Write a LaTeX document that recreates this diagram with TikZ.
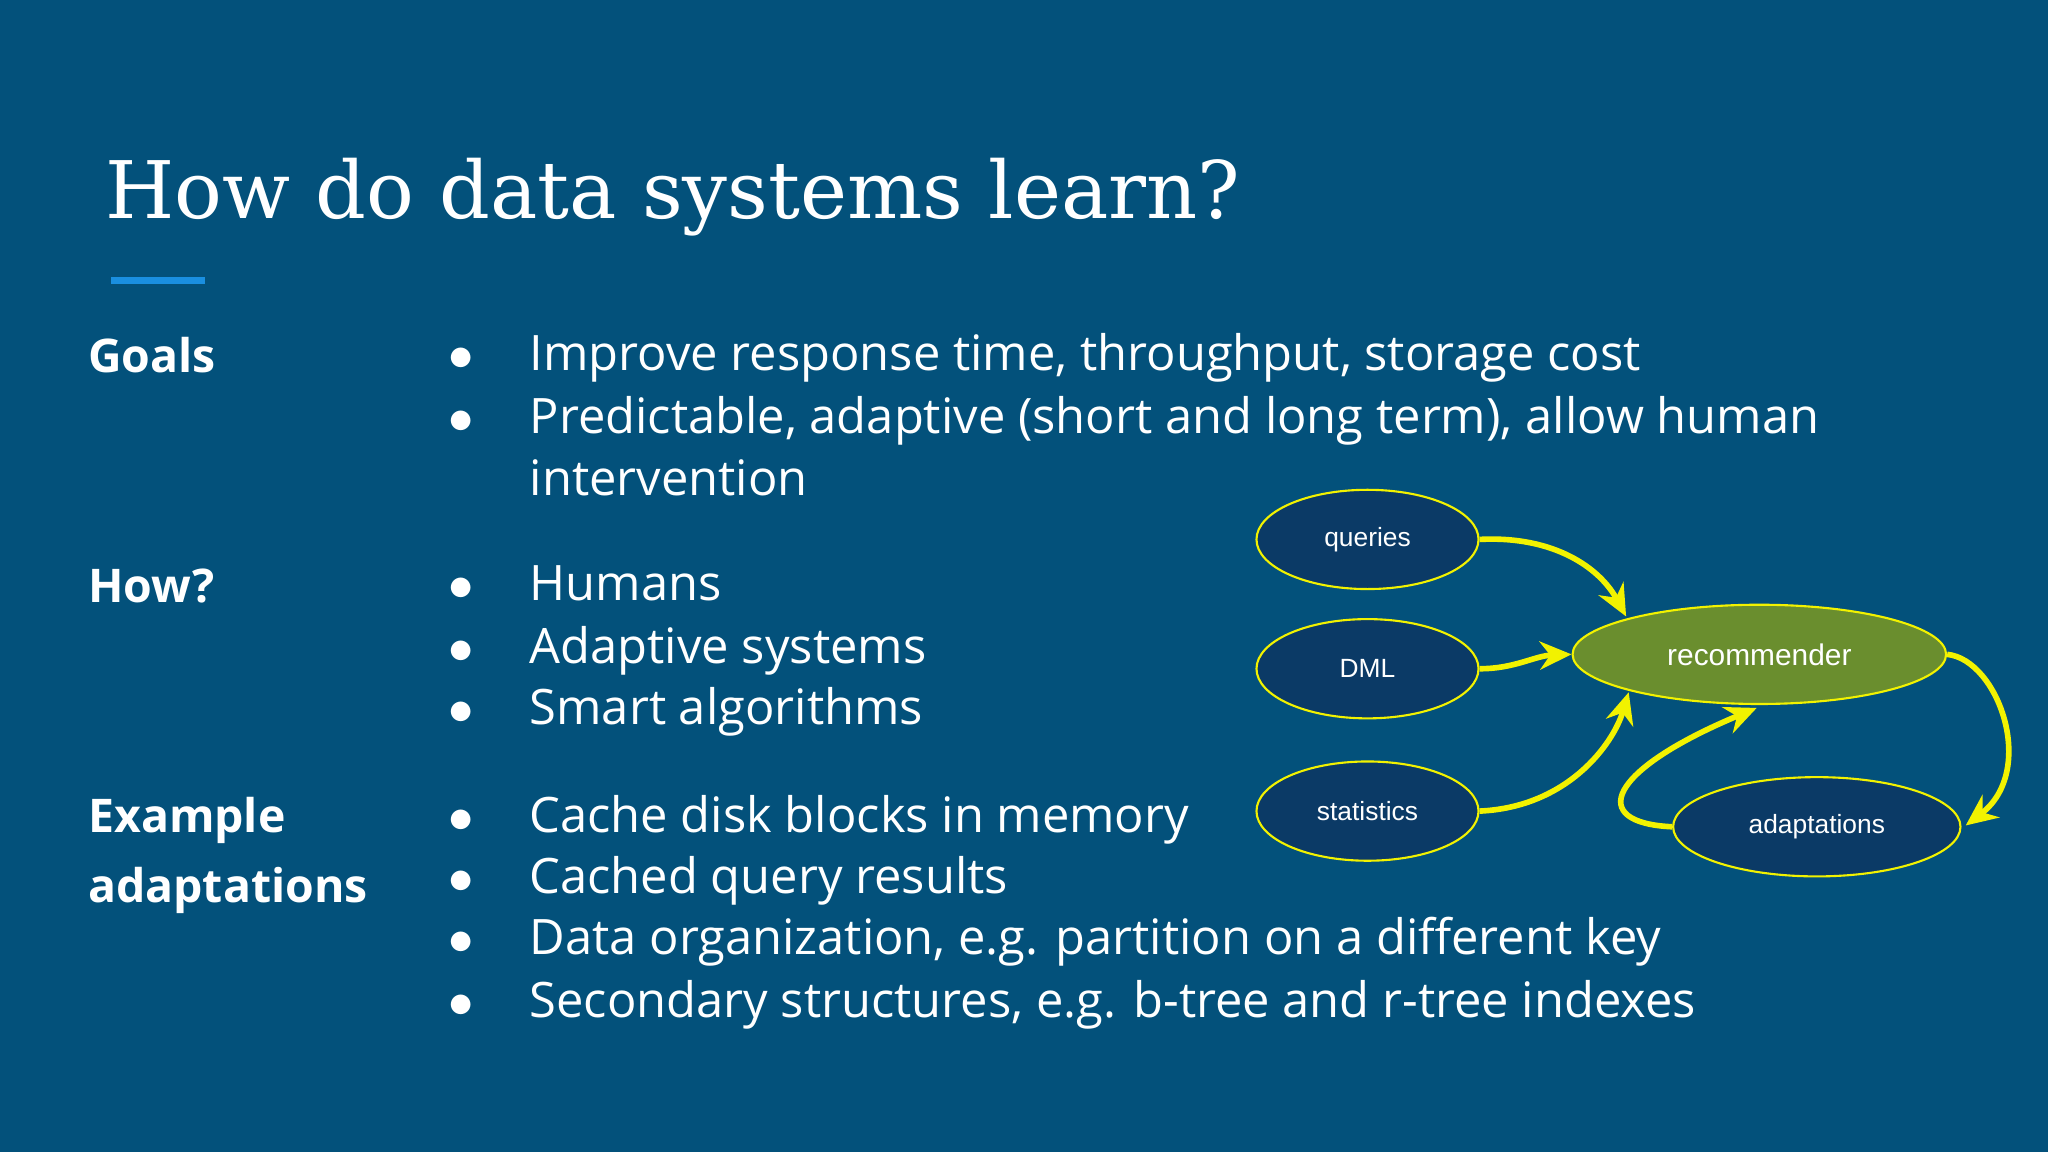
\documentclass[tikz,border=0pt]{standalone}
\usepackage{fontspec}
\setmainfont{Open Sans}
\newfontfamily\titlefont{DejaVu Serif}
\newfontfamily\arialfont{Liberation Sans}
\usetikzlibrary{arrows.meta,shapes.geometric}
\definecolor{bg}{HTML}{03517B}
\definecolor{nav}{HTML}{0B3A66}
\definecolor{grn}{HTML}{6A8E2E}
\definecolor{acc}{HTML}{1A8FE0}
\definecolor{yel}{HTML}{F2F200}
\begin{document}
\begin{tikzpicture}[x=0.013061cm,y=-0.013061cm,
  el/.style={ellipse,draw=yel,line width=0.6pt,fill=nav,text=white,font=\arialfont\fontsize{7.5}{9}\selectfont,inner sep=0pt},
  ar/.style={draw=yel,line width=1.6pt,-{Stealth[length=9pt,width=8pt]}},
  txt/.style={anchor=base west,text=white,font=\fontsize{13.9}{18}\selectfont},
  lbl/.style={anchor=base west,text=white,font=\bfseries\fontsize{13.2}{18}\selectfont},
  bul/.style={anchor=base,text=white,font=\fontsize{15.5}{18}\selectfont}]
\fill[bg] (0,0) rectangle (1568,882);
\useasboundingbox (0,0) rectangle (1568,882);
\node[anchor=base west,text=white,font=\titlefont\fontsize{22.6}{30}\selectfont,inner sep=0pt] (title) at (80,167) {How do data systems learn?};
\draw[acc,line width=2pt] (85,215) -- (157,215);
\node[lbl,inner sep=0pt] (g) at (67,285) {Goals};
\node[lbl,inner sep=0pt] (h) at (67,461) {How?};
\node[lbl,inner sep=0pt] (e1) at (67,637) {Example};
\node[lbl,inner sep=0pt] (e2) at (67,691) {adaptations};
\foreach \y [count=\i] in {284,332,460,508,555,637,684,731,779}{
  \node[bul,inner sep=0pt] (b\i) at (353,\y) {$\bullet$};
}
\node[txt,inner sep=0pt] (t1) at (405,284) {Improve response time, throughput, storage cost};
\node[txt,inner sep=0pt] (t2) at (405,332) {Predictable, adaptive (short and long term), allow human};
\node[txt,inner sep=0pt] (t2b) at (405,379) {intervention};
\node[txt,inner sep=0pt] (t3) at (405,460) {Humans};
\node[txt,inner sep=0pt] (t4) at (405,508) {Adaptive systems};
\node[txt,inner sep=0pt] (t5) at (405,555) {Smart algorithms};
\node[txt,inner sep=0pt] (t6) at (405,637) {Cache disk blocks in memory};
\node[txt,inner sep=0pt] (t7) at (405,684) {Cached query results};
\node[txt,inner sep=0pt] (t8) at (405,731) {Data organization, e.g. partition on a different key};
\node[txt,inner sep=0pt] (t9) at (405,779) {Secondary structures, e.g. b-tree and r-tree indexes};
% diagram
\node[el,minimum width=170*0.013061cm,minimum height=76*0.013061cm] (q) at (1047,413) {queries};
\node[el,minimum width=170*0.013061cm,minimum height=76*0.013061cm] (d) at (1047,512) {DML};
\node[el,minimum width=170*0.013061cm,minimum height=76*0.013061cm] (s) at (1047,621) {statistics};
\node[el,fill=grn,font=\arialfont\fontsize{8.5}{10}\selectfont,minimum width=286*0.013061cm,minimum height=76*0.013061cm] (r) at (1347,501) {recommender};
\node[el,minimum width=220*0.013061cm,minimum height=76*0.013061cm] (a) at (1391,633) {adaptations};
\draw[ar] (q.east) .. controls (1190,410) and (1225,435) .. (1245,472);
\draw[ar] (d.east) .. controls (1160,512) and (1175,502) .. (r.west);
\draw[ar] (s.east) .. controls (1200,618) and (1235,570) .. (1247,530);
\draw[ar] (r.east) .. controls (1530,505) and (1560,590) .. (1505,632);
\draw[ar] (a.west) .. controls (1215,630) and (1230,590) .. (1345,542);
\end{tikzpicture}
\end{document}
